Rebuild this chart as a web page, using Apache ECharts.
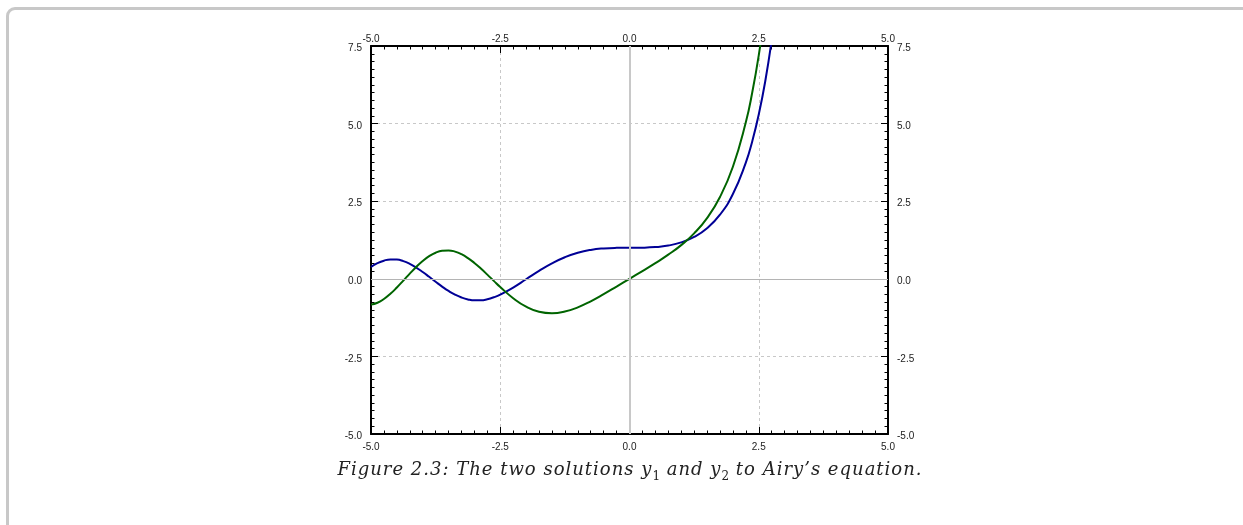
<!DOCTYPE html>
<html>
<head>
<meta charset="utf-8">
<title>Airy's equation — y1 and y2</title>
<script src="https://cdn.jsdelivr.net/npm/echarts@6/dist/echarts.min.js"></script>
<style>
  html, body { margin: 0; padding: 0; background: #fff; overflow: hidden; }
  #frame {
    position: absolute; left: 6px; top: 7px; width: 1400px; height: 700px;
    border: 3px solid #c8c8c8; border-radius: 9px; box-sizing: border-box;
  }
  #chart { position: absolute; left: 0; top: 0; width: 1243px; height: 525px; }
  #caption {
    position: absolute; left: 0; top: 458px; width: 1260px; text-align: center;
    font-family: "DejaVu Serif", serif; font-style: italic; font-size: 18px;
    letter-spacing: 1px; color: #222;
  }
  #caption sub { font-style: normal; font-size: 12px; letter-spacing: 0; }
</style>
</head>
<body>
<div id="frame"></div>
<div id="chart"></div>
<div id="caption">Figure 2.3: The two solutions <span>y</span><sub>1</sub> and <span>y</span><sub>2</sub> to Airy’s equation.</div>
<script>
// --- data --------------------------------------------------------------------
// finer sampling on the oscillating left part, coarser where the curves are calm
const xs = [-5, -4.875, -4.75, -4.625, -4.5, -4.375, -4.25, -4.125, -4, -3.875,
  -3.75, -3.625, -3.5, -3.375, -3.25, -3.125, -3, -2.875, -2.75, -2.625, -2.5,
  -2.25, -2, -1.75, -1.5, -1.25, -1, -0.75, -0.5, -0.25, 0, 0.25, 0.5, 0.75, 1,
  1.25, 1.5, 1.75, 2, 2.25, 2.375, 2.5, 2.625, 2.75];
// y1: y(0)=1, y'(0)=0  (blue)
const y1 = [0.381, 0.502, 0.584, 0.623, 0.618, 0.569, 0.482, 0.363, 0.220, 0.064,
  -0.096, -0.251, -0.392, -0.511, -0.603, -0.665, -0.695, -0.692, -0.658, -0.596,
  -0.510, -0.282, -0.015, 0.255, 0.498, 0.695, 0.839, 0.931, 0.979, 0.997, 1.000,
  1.003, 1.021, 1.071, 1.172, 1.347, 1.629, 2.065, 2.731, 3.744, 4.435, 5.292,
  6.357, 7.684];
// y2: y(0)=0, y'(0)=1  (green)
const y2 = [-0.832, -0.771, -0.651, -0.484, -0.281, -0.059, 0.167, 0.382, 0.573,
  0.728, 0.840, 0.902, 0.914, 0.876, 0.792, 0.667, 0.511, 0.330, 0.135, -0.067,
  -0.265, -0.625, -0.899, -1.062, -1.111, -1.056, -0.919, -0.724, -0.495, -0.250,
  0.000, 0.250, 0.505, 0.777, 1.085, 1.463, 1.957, 2.637, 3.611, 5.044, 6.009,
  7.201, 8.671, 10.501];
const xTicks = [-5, 5, 2.5];     // min, max, step
const yTicks = [-5, 7.5, 2.5];

// --- axis builders -----------------------------------------------------------
const fmt = (v) => v.toFixed(1);
function axis(kind, position, range, labelMargin, withGrid) {
  const a = {
    type: "value", position, min: range[0], max: range[1], interval: range[2],
    axisLine: { show: true, onZero: false, lineStyle: { color: "#000", width: 2 } },
    axisTick: { show: true, inside: true, length: 7, lineStyle: { color: "#000", width: 1 } },
    minorTick: { show: true, splitNumber: 10, length: 3.5, lineStyle: { color: "#000", width: 1 } },
    splitLine: { show: withGrid, lineStyle: { type: [3, 3], color: "#c8c8c8", width: 1 } },
    minorSplitLine: { show: false },
    axisLabel: {
      formatter: fmt, fontSize: 10, color: "#222", margin: labelMargin,
      fontFamily: "Liberation Sans, Arial, sans-serif",
      showMinLabel: true, showMaxLabel: true,
    },
  };
  // y labels sit a couple of pixels below their tick
  if (kind === "y") Object.assign(a.axisLabel, { verticalAlign: "top", lineHeight: 5 });
  return a;
}

const lineSeries = (name, ys, color) => ({
  name, type: "line", data: xs.map((x, i) => [x, ys[i]]),
  showSymbol: false, smooth: 0.5, clip: true,
  lineStyle: { color, width: 2 }, itemStyle: { color },
  z: 3,
});

const chart = echarts.init(document.getElementById("chart"), null, { renderer: "canvas" });
const blue = lineSeries("y1", y1, "#000096");
const green = lineSeries("y2", y2, "#006400");
// solid zero lines through the origin
blue.markLine = {
  silent: true, symbol: "none", label: { show: false }, animation: false,
  data: [
    { xAxis: 0, lineStyle: { color: "#c8c8c8", width: 2, type: "solid" } },
    { yAxis: 0, lineStyle: { color: "#b4b4b4", width: 1, type: "solid" } },
  ],
};

chart.setOption({
  animation: false,
  grid: { left: 371, top: 46, width: 517, height: 388, containLabel: false },
  xAxis: [axis("x", "bottom", xTicks, 8, true), axis("x", "top", xTicks, 2, false)],
  yAxis: [
    { ...axis("y", "left", yTicks, 9, true) },
    { ...axis("y", "right", yTicks, 9, false) },
  ],
  series: [blue, green],
});
</script>
</body>
</html>
